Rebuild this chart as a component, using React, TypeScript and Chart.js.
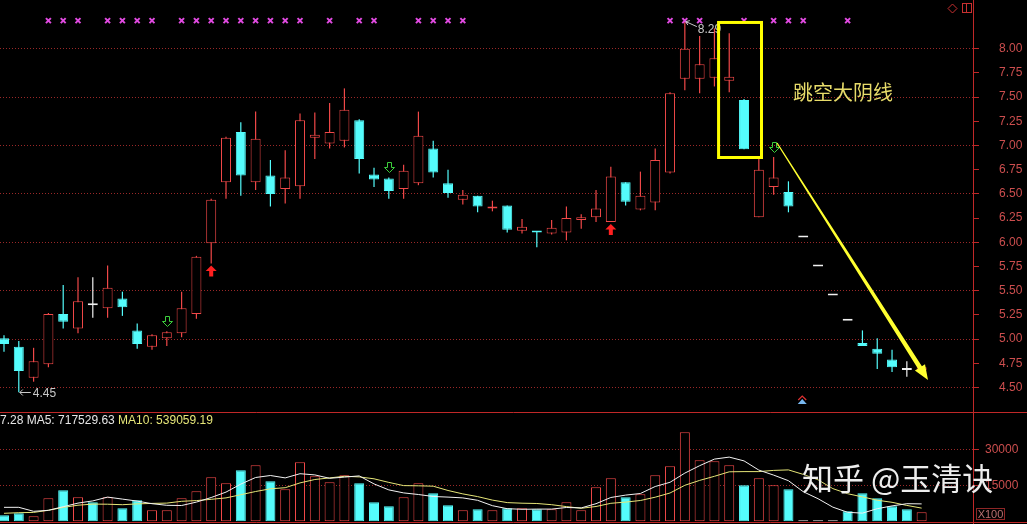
import React, { useEffect, useRef } from "react";
import { Chart, registerables } from "chart.js";

Chart.register(...registerables);

// ---------------- data ----------------
const openPrices = [
  5.01, 4.92, 4.6, 4.74, 5.26, 5.11, 5.35, 5.32, 5.42, 5.09,
  4.92, 5.01, 5.06, 5.26, 5.99, 6.62, 7.14, 6.62, 6.69, 6.55,
  6.58, 7.08, 7.02, 7.05, 7.26, 6.7, 6.66, 6.55, 6.61, 6.97,
  6.61, 6.44, 6.48, 6.35, 6.38, 6.12, 6.11, 6.09, 6.1, 6.23,
  6.26, 6.21, 6.62, 6.34, 6.41, 6.72, 7.69, 7.69, 7.7, 7.67,
  7.47, 6.26, 6.57, 6.52, 6.05, 5.75, 5.45, 5.19, 4.96, 4.9,
  4.79, 4.68, 4.68,
];
const closePrices = [
  4.95, 4.67, 4.77, 5.26, 5.18, 5.39, 5.35, 5.53, 5.33, 4.95,
  5.04, 5.07, 5.32, 5.85, 6.44, 7.08, 6.69, 7.07, 6.5, 6.67,
  7.26, 7.11, 7.14, 7.37, 6.86, 6.65, 6.53, 6.74, 7.1, 6.72,
  6.51, 6.49, 6.37, 6.37, 6.13, 6.16, 6.1, 6.15, 6.25, 6.26,
  6.35, 6.68, 6.42, 6.48, 6.85, 7.54, 8.0, 7.84, 7.9, 7.71,
  6.96, 6.75, 6.67, 6.37, 6.05, 5.75, 5.45, 5.19, 4.93, 4.85,
  4.71, 4.68, 4.71,
];
const highPrices = [
  5.04, 4.98, 4.91, 5.27, 5.56, 5.64, 5.64, 5.76, 5.49, 5.16,
  5.05, 5.08, 5.49, 5.86, 6.45, 7.09, 7.24, 7.35, 6.85, 6.95,
  7.33, 7.34, 7.44, 7.59, 7.27, 6.77, 6.67, 6.8, 7.35, 7.05,
  6.75, 6.54, 6.48, 6.43, 6.38, 6.24, 6.11, 6.23, 6.37, 6.29,
  6.54, 6.78, 6.62, 6.73, 6.97, 7.55, 8.29, 8.13, 8.21, 8.16,
  7.48, 6.87, 6.88, 6.63, 6.05, 5.75, 5.45, 5.19, 5.09, 5.01,
  4.89, 4.77, 4.71,
];
const lowPrices = [
  4.87, 4.45, 4.56, 4.71, 5.11, 5.06, 5.22, 5.22, 5.24, 4.9,
  4.89, 4.93, 5.02, 5.21, 5.78, 6.45, 6.48, 6.54, 6.37, 6.4,
  6.45, 6.86, 6.97, 6.98, 6.71, 6.57, 6.45, 6.45, 6.59, 6.67,
  6.46, 6.39, 6.31, 6.32, 6.1, 6.09, 5.95, 6.08, 6.02, 6.14,
  6.21, 6.21, 6.38, 6.33, 6.33, 6.71, 7.57, 7.54, 7.61, 7.55,
  6.96, 6.26, 6.49, 6.31, 6.05, 5.75, 5.45, 5.19, 4.93, 4.69,
  4.66, 4.61, 4.68,
];
// volume in lots (x100 shares)
const volumes = [
  2500, 3330, 2080, 9580, 12920, 10000, 7920, 10000, 5420, 8750,
  4580, 4580, 9580, 12500, 18330, 15830, 21250, 23330, 16670, 13330,
  24580, 18750, 16250, 19170, 15830, 7920, 6250, 10000, 15830, 11670,
  6670, 4580, 5000, 4580, 5420, 5420, 5000, 5000, 7920, 4580,
  14170, 17920, 10000, 11250, 19170, 22920, 37080, 25420, 25000, 23330,
  15000, 17920, 15000, 13330, 400, 400, 400, 4170, 11670, 9580,
  6250, 5000, 3750,
];
// volumes of the days before the first visible day (feed the moving averages)
const priorVolumes = [800, 800, 900, 800, 900, 3300, 10400, 7500, 5400];

const priceTicks = [4.5, 4.75, 5.0, 5.25, 5.5, 5.75, 6.0, 6.25, 6.5, 6.75, 7.0, 7.25, 7.5, 7.75, 8.0];
const volumeTicks = [15000, 30000];

const markDays = [3, 4, 5, 7, 8, 9, 10, 12, 13, 14, 15, 16, 17, 18, 19, 20, 22, 24, 25, 28, 29, 30, 31, 45, 46, 47, 50, 52, 53, 54, 57];
const MARK_LEVEL = 8.29;
const sellArrowDays = [11, 26, 52];
const buyArrowDays = [14, 41];
const flatVolumeDays = [54, 55, 56];
const alertDays = [54];

const volumeLegendParts = ["7.28 MA5: 717529.63 ", "MA10: 539059.19"];
const noteText = "跳空大阴线";
const watermarkText = "知乎 @玉清诀";

// axis ranges
const X_MIN = -0.27;
const X_MAX = 65.47;
const PRICE_MIN = 4.247;
const PRICE_MAX = 8.503;
const VOL_MIN = -1125;
const VOL_MAX = 45542;

// annotations in data units
const gapBox = { x0: 48.28, x1: 51.18, top: 8.271, bottom: 6.876 };
const trendArrow = { x0: 52.23, y0: 7.026, x1: 62.43, y1: 4.577 };
const noteAnchor = { x: 53.31, y: 7.553 };

// ---------------- styles ----------------
const RED = "#f04848";
const CYAN = "#54fcfc";
const WHITE = "#f0f0f0";
const AXIS_RED = "#c02828";
const GRID_RED = "#9a2828";
const LABEL_RED = "#cc4e4e";
const MAGENTA = "#e04ae0";
const YELLOW = "#ffff00";
const MA10_YELLOW = "#e6e678";
const FONT = "Liberation Sans";

const days = openPrices.map((_, i) => i);
const kind = (i: number) =>
  closePrices[i] > openPrices[i] ? "up" : closePrices[i] < openPrices[i] ? "down" : "flat";
const candleColor = (i: number) => (kind(i) === "up" ? RED : kind(i) === "down" ? CYAN : WHITE);
const volColor = (i: number) =>
  flatVolumeDays.includes(i) ? WHITE : kind(i) === "up" ? RED : CYAN;

function movingAverage(series: number[], prior: number[], n: number) {
  const all = [...prior, ...series];
  return series.map((_, i) => {
    const end = prior.length + i;
    let s = 0;
    for (let k = end - n + 1; k <= end; k++) s += all[k];
    return s / n;
  });
}
const ma5 = movingAverage(volumes, priorVolumes, 5);
const ma10 = movingAverage(volumes, priorVolumes, 10);

const isHalf = (v: number) => Math.abs(v * 2 - Math.round(v * 2)) < 1e-6;

// ---------------- plugins ----------------
const priceOverlay = {
  id: "priceOverlay",
  afterDraw(chart: any) {
    const { ctx, chartArea } = chart;
    const xs = chart.scales.x;
    const ys = chart.scales.y;
    const px = (v: number) => xs.getPixelForValue(v);
    const py = (v: number) => ys.getPixelForValue(v);
    const snap = (v: number) => Math.round(v) + 0.5;
    ctx.save();
    ctx.beginPath();
    ctx.rect(chartArea.left, chartArea.top, chartArea.right - chartArea.left, chartArea.bottom - chartArea.top);
    ctx.clip();

    // green hollow down arrows above highs
    ctx.lineWidth = 1;
    ctx.strokeStyle = "#3ccf3c";
    for (const d of sellArrowDays) {
      const cx = snap(px(d));
      const tip = Math.round(py(highPrices[d])) - 4.5;
      const top = tip - 10;
      ctx.beginPath();
      ctx.moveTo(cx - 2, top);
      ctx.lineTo(cx + 2, top);
      ctx.lineTo(cx + 2, top + 5);
      ctx.lineTo(cx + 5, top + 5);
      ctx.lineTo(cx, tip);
      ctx.lineTo(cx - 5, top + 5);
      ctx.lineTo(cx - 2, top + 5);
      ctx.closePath();
      ctx.stroke();
    }
    // red filled up arrows below lows
    ctx.fillStyle = "#ff2020";
    for (const d of buyArrowDays) {
      const cx = px(d);
      const tip = py(lowPrices[d]) + 2;
      ctx.beginPath();
      ctx.moveTo(cx, tip);
      ctx.lineTo(cx + 5.5, tip + 5.5);
      ctx.lineTo(cx + 2, tip + 5.5);
      ctx.lineTo(cx + 2, tip + 11);
      ctx.lineTo(cx - 2, tip + 11);
      ctx.lineTo(cx - 2, tip + 5.5);
      ctx.lineTo(cx - 5.5, tip + 5.5);
      ctx.closePath();
      ctx.fill();
    }

    // lowest low / highest high labels
    const loIdx = lowPrices.indexOf(Math.min(...lowPrices));
    const hiIdx = highPrices.indexOf(Math.max(...highPrices));
    ctx.strokeStyle = "#c8c8c8";
    ctx.fillStyle = "#c8c8c8";
    ctx.font = `12px "${FONT}"`;
    ctx.textBaseline = "middle";
    ctx.textAlign = "left";
    {
      const x0 = px(loIdx) + 1;
      const y0 = Math.round(py(lowPrices[loIdx])) + 0.5;
      ctx.beginPath();
      ctx.moveTo(x0, y0);
      ctx.lineTo(x0 + 11, y0);
      ctx.moveTo(x0 + 3, y0 - 3);
      ctx.lineTo(x0, y0);
      ctx.lineTo(x0 + 3, y0 + 3);
      ctx.stroke();
      ctx.fillText(lowPrices[loIdx].toFixed(2), x0 + 13, y0 + 1);
    }
    {
      const x0 = px(hiIdx) + 1;
      const y0 = py(highPrices[hiIdx]) + 1;
      ctx.beginPath();
      ctx.moveTo(x0, y0);
      ctx.lineTo(x0 + 11, y0 + 5);
      ctx.moveTo(x0 + 4, y0 - 1);
      ctx.lineTo(x0, y0);
      ctx.lineTo(x0 + 2, y0 + 3.5);
      ctx.stroke();
      ctx.fillText(highPrices[hiIdx].toFixed(2), x0 + 12, y0 + 8);
    }

    // yellow highlight box
    ctx.strokeStyle = YELLOW;
    ctx.lineWidth = 3;
    {
      const l = px(gapBox.x0), r = px(gapBox.x1), t = py(gapBox.top), b = py(gapBox.bottom);
      ctx.strokeRect(l, t, r - l, b - t);
    }

    // note text
    ctx.fillStyle = "#e8dc6a";
    ctx.font = `20px "Noto Sans CJK SC"`;
    ctx.textBaseline = "middle";
    ctx.fillText(noteText, px(noteAnchor.x), py(noteAnchor.y));

    // tapered trend arrow
    {
      const sx = px(trendArrow.x0), sy = py(trendArrow.y0);
      const ex = px(trendArrow.x1), ey = py(trendArrow.y1);
      const len = Math.hypot(ex - sx, ey - sy);
      const ux = (ex - sx) / len, uy = (ey - sy) / len;
      const nx = -uy, ny = ux;
      const headLen = 15, headHalf = 6, shaftEnd = 2.3, shaftStart = 0.6;
      const bx = ex - ux * headLen, by = ey - uy * headLen;
      ctx.fillStyle = "#ffff30";
      ctx.beginPath();
      ctx.moveTo(sx + nx * shaftStart, sy + ny * shaftStart);
      ctx.lineTo(bx + nx * shaftEnd, by + ny * shaftEnd);
      ctx.lineTo(bx + nx * headHalf, by + ny * headHalf);
      ctx.lineTo(ex, ey);
      ctx.lineTo(bx - nx * headHalf, by - ny * headHalf);
      ctx.lineTo(bx - nx * shaftEnd, by - ny * shaftEnd);
      ctx.lineTo(sx - nx * shaftStart, sy - ny * shaftStart);
      ctx.closePath();
      ctx.fill();
    }

    // alert chevrons at bottom of the price panel
    for (const d of alertDays) {
      const cx = px(d) - 1;
      const b = chartArea.bottom;
      ctx.strokeStyle = "#e03030";
      ctx.lineWidth = 1.2;
      ctx.beginPath();
      ctx.moveTo(cx - 4, b - 12);
      ctx.lineTo(cx, b - 16);
      ctx.lineTo(cx + 4, b - 12);
      ctx.stroke();
      ctx.fillStyle = "#78b8f0";
      ctx.beginPath();
      ctx.moveTo(cx - 4.5, b - 8);
      ctx.lineTo(cx, b - 13);
      ctx.lineTo(cx + 4.5, b - 8);
      ctx.closePath();
      ctx.fill();
    }

    // top-right icons
    {
      const r = chartArea.right;
      ctx.strokeStyle = "#c83030";
      ctx.lineWidth = 1;
      const dx = r - 20.5, dy = 8.5;
      ctx.beginPath();
      ctx.moveTo(dx, dy - 4.5);
      ctx.lineTo(dx + 4.5, dy);
      ctx.lineTo(dx, dy + 4.5);
      ctx.lineTo(dx - 4.5, dy);
      ctx.closePath();
      ctx.stroke();
      ctx.strokeRect(r - 10.5, 3.5, 9, 9);
      ctx.beginPath();
      ctx.moveTo(r - 6.5, 3.5);
      ctx.lineTo(r - 6.5, 12.5);
      ctx.stroke();
    }
    ctx.restore();
  },
};

const volumeOverlay = {
  id: "volumeOverlay",
  afterDraw(chart: any) {
    const { ctx, width } = chart;
    ctx.save();
    ctx.strokeStyle = AXIS_RED;
    ctx.lineWidth = 1;
    ctx.beginPath();
    ctx.moveTo(0, 0.5);
    ctx.lineTo(width, 0.5);
    ctx.moveTo(0, 110.5);
    ctx.lineTo(width, 110.5);
    ctx.stroke();

    // legend
    ctx.font = `12px "${FONT}"`;
    ctx.textBaseline = "middle";
    ctx.textAlign = "left";
    ctx.fillStyle = "#e6e6e6";
    ctx.fillText(volumeLegendParts[0], 0, 9);
    const w = ctx.measureText(volumeLegendParts[0]).width;
    ctx.fillStyle = MA10_YELLOW;
    ctx.fillText(volumeLegendParts[1], w, 9);

    // unit box
    const r = chart.chartArea.right;
    ctx.strokeStyle = "#8e2626";
    ctx.strokeRect(r + 3.5, 96.5, 28, 11);
    ctx.fillStyle = "#b87070";
    ctx.font = `11px "${FONT}"`;
    ctx.textAlign = "center";
    ctx.fillText("X100", r + 17.5, 102.5);

    // watermark
    ctx.textAlign = "left";
    ctx.font = `31px "Noto Sans CJK SC"`;
    ctx.fillStyle = "rgba(255,255,255,0.93)";
    ctx.shadowColor = "rgba(0,0,0,0.6)";
    ctx.shadowBlur = 2;
    ctx.fillText(watermarkText, 802, 66);
    ctx.restore();
  },
};

function yAxis(min: number, max: number, ticks: number[], padding: number, fmt: (v: number) => string, gridColor: (v: number) => string) {
  return {
    type: "linear" as const,
    position: "right" as const,
    min,
    max,
    afterBuildTicks: (s: any) => {
      s.ticks = ticks.map((v) => ({ value: v }));
    },
    afterFit: (s: any) => {
      s.width = 54;
      s.paddingTop = 0;
      s.paddingBottom = 0;
    },
    ticks: {
      autoSkip: false,
      color: LABEL_RED,
      font: { family: FONT, size: 12 },
      padding,
      callback: (v: any) => fmt(Number(v)),
    },
    grid: {
      color: (c: any) => (c.tick ? gridColor(c.tick.value) : "rgba(0,0,0,0)"),
      lineWidth: 1,
      tickColor: AXIS_RED,
      tickLength: 6,
      drawTicks: true,
    },
    border: { display: true, color: AXIS_RED, width: 1, dash: [1, 2] },
  };
}

const xAxis = {
  type: "linear" as const,
  min: X_MIN,
  max: X_MAX,
  offset: false,
  display: false,
  grid: { display: false },
};

const baseOptions = {
  responsive: false,
  animation: false,
  events: [],
  layout: { padding: 0, autoPadding: false },
  plugins: { legend: { display: false }, tooltip: { enabled: false } },
};

export default function App() {
  const priceRef = useRef<HTMLCanvasElement>(null);
  const volRef = useRef<HTMLCanvasElement>(null);

  useEffect(() => {
    document.body.style.margin = "0";
    document.body.style.background = "#000";

    const priceChart = new Chart(priceRef.current as HTMLCanvasElement, {
      type: "bar",
      data: {
        datasets: [
          {
            type: "line",
            data: markDays.map((d) => ({ x: d, y: MARK_LEVEL })),
            showLine: false,
            pointStyle: "crossRot",
            pointRadius: 3.5,
            pointHoverRadius: 0,
            pointBorderWidth: 2,
            pointBorderColor: MAGENTA,
            borderColor: MAGENTA,
            order: 0,
          } as any,
          {
            type: "bar",
            data: days.map((i) => ({ x: i, y: [openPrices[i], closePrices[i]] })),
            backgroundColor: days.map((i) => (kind(i) === "up" ? "#000000" : candleColor(i))),
            borderColor: days.map(candleColor),
            borderWidth: 1,
            borderSkipped: false,
            barThickness: 10,
            minBarLength: 2,
            grouped: false,
            inflateAmount: 0,
            order: 1,
          } as any,
          {
            type: "bar",
            data: days.map((i) => ({ x: i, y: [lowPrices[i], highPrices[i]] })),
            backgroundColor: days.map(candleColor),
            borderWidth: 0,
            barThickness: 1.2,
            grouped: false,
            inflateAmount: 0,
            order: 2,
          } as any,
        ],
      },
      options: {
        ...baseOptions,
        scales: {
          x: xAxis,
          y: yAxis(PRICE_MIN, PRICE_MAX, priceTicks, 20, (v) => v.toFixed(2), (v) =>
            isHalf(v) ? GRID_RED : "rgba(0,0,0,0)"
          ),
        },
      } as any,
      plugins: [priceOverlay],
    });

    const volChart = new Chart(volRef.current as HTMLCanvasElement, {
      type: "bar",
      data: {
        datasets: [
          {
            type: "line",
            data: days.map((i) => ({ x: i, y: ma5[i] })),
            borderColor: "#f2f2f2",
            borderWidth: 1,
            pointRadius: 0,
            pointHoverRadius: 0,
            order: 0,
          } as any,
          {
            type: "line",
            data: days.map((i) => ({ x: i, y: ma10[i] })),
            borderColor: MA10_YELLOW,
            borderWidth: 1,
            pointRadius: 0,
            pointHoverRadius: 0,
            order: 0,
          } as any,
          {
            type: "bar",
            data: days.map((i) => ({ x: i, y: volumes[i] })),
            backgroundColor: days.map((i) => (volColor(i) === RED ? "#000000" : volColor(i))),
            borderColor: days.map(volColor),
            borderWidth: 1,
            borderSkipped: false,
            barThickness: 10,
            minBarLength: 1,
            grouped: false,
            inflateAmount: 0,
            order: 1,
          } as any,
        ],
      },
      options: {
        ...baseOptions,
        scales: {
          x: xAxis,
          y: yAxis(VOL_MIN, VOL_MAX, volumeTicks, 6, (v) => String(v), () => GRID_RED),
        },
      } as any,
      plugins: [volumeOverlay],
    });

    return () => {
      priceChart.destroy();
      volChart.destroy();
    };
  }, []);

  return (
    <div style={{ position: "fixed", left: 0, top: 0, width: 1027, height: 524, background: "#000" }}>
      <canvas ref={priceRef} width={1027} height={412} style={{ position: "absolute", left: 0, top: 0 }} />
      <canvas ref={volRef} width={1027} height={112} style={{ position: "absolute", left: 0, top: 412 }} />
    </div>
  );
}
